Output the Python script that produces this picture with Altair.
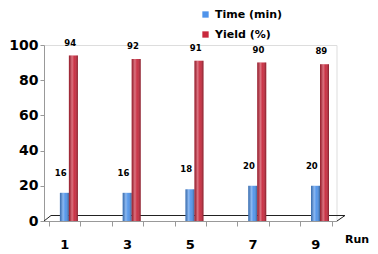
import altair as alt
import pandas as pd

runs = [1, 3, 5, 7, 9]
time_min = [16, 16, 18, 20, 20]
yield_pct = [94, 92, 91, 90, 89]
series = ["Time (min)", "Yield (%)"]
colors = ["#4f93ea", "#c8283c"]

rows = []
for r, t, y in zip(runs, time_min, yield_pct):
    rows.append({"run": r, "series": series[0], "value": t})
    rows.append({"run": r, "series": series[1], "value": y})
df = pd.DataFrame(rows)

FONT = "DejaVu Sans"

xscale = alt.Scale(domain=[0.5, 9.5], nice=False, zero=False)
yscale = alt.Scale(domain=[0, 100], nice=False)
cscale = alt.Scale(domain=series, range=colors)

xaxis = alt.Axis(values=[0.5 + i for i in range(10)], labels=False, title=None,
                 domainColor="#999999", tickColor="#999999", tickSize=5, grid=False)
yaxis = alt.Axis(values=[0, 20, 40, 60, 80, 100], title=None, grid=False,
                 labelFont=FONT, labelFontWeight="bold", labelFontSize=14,
                 labelColor="#000000", domainColor="#999999", tickColor="#999999",
                 tickSize=4, labelPadding=2, labelOverlap=False)
xq = alt.X("run:Q", scale=xscale, axis=xaxis)
yq = alt.Y("value:Q", scale=yscale, axis=yaxis)

shade = {
    "gradient": "linear", "x1": 0, "y1": 0, "x2": 1, "y2": 0,
    "stops": [
        {"offset": 0, "color": "rgba(0,0,0,0.25)"},
        {"offset": 0.35, "color": "rgba(255,255,255,0.35)"},
        {"offset": 0.6, "color": "rgba(255,255,255,0.05)"},
        {"offset": 1, "color": "rgba(0,0,0,0.35)"},
    ],
}

base = alt.Chart(df)
blue_data = base.transform_filter(alt.datum.series == series[0])
red_data = base.transform_filter(alt.datum.series == series[1])

legend = alt.Legend(title=None, orient="none", legendX=156, legendY=-36,
                    symbolType="square", symbolSize=40, rowPadding=8,
                    labelFont=FONT, labelFontWeight="bold", labelFontSize=11,
                    labelColor="#000000", symbolStrokeWidth=0, padding=0)

blue = blue_data.mark_bar(width=9, xOffset=-0.3).encode(
    x=xq, y=yq, color=alt.Color("series:N", scale=cscale, legend=legend))
blue_shade = blue_data.mark_bar(width=9, xOffset=-0.3, fill=shade).encode(x=xq, y=yq)

red = red_data.mark_bar(width=9, xOffset=8.7).encode(
    x=xq, y=yq, color=alt.Color("series:N", scale=cscale, legend=legend))
red_shade = red_data.mark_bar(width=9, xOffset=8.7, fill=shade).encode(x=xq, y=yq)

blue_lbl = blue_data.mark_text(
    font=FONT, fontWeight="bold", fontSize=8.5, dx=-4, dy=-20, color="#000000"
).encode(x=xq, y=yq, text="value:Q")

red_lbl = red_data.mark_text(
    font=FONT, fontWeight="bold", fontSize=8.5, dx=5.5, dy=-13, color="#000000"
).encode(x=xq, y=yq, text="value:Q")

run_df = pd.DataFrame({"run": runs, "label": [str(r) for r in runs]})
xlabels = alt.Chart(run_df).mark_text(
    font=FONT, fontWeight="bold", fontSize=13, color="#000000", baseline="middle"
).encode(x=xq, y=alt.value(200), text="label:N")

run_title = alt.Chart(pd.DataFrame({"t": ["Run"]})).mark_text(
    font=FONT, fontWeight="bold", fontSize=11, color="#000000", align="left", baseline="middle"
).encode(x=alt.value(301), y=alt.value(195), text="t:N")

# 3D floor outline (decoration)
one = pd.DataFrame({"a": [0]})
floor_back = alt.Chart(one).mark_rule(color="#222222", strokeWidth=1).encode(
    x=alt.value(7), x2=alt.value(301), y=alt.value(170.5))
floor_left = alt.Chart(one).mark_rule(color="#222222", strokeWidth=1).encode(
    x=alt.value(0), x2=alt.value(7), y=alt.value(176), y2=alt.value(170.5))
floor_right = alt.Chart(one).mark_rule(color="#222222", strokeWidth=1).encode(
    x=alt.value(293), x2=alt.value(301), y=alt.value(176), y2=alt.value(170.5))

chart = alt.layer(
    floor_back, floor_left, floor_right,
    blue, blue_shade, red, red_shade, blue_lbl, red_lbl, xlabels, run_title
).properties(
    width=292.5, height=176,
    autosize=alt.AutoSizeParams(type="none"),
    padding={"left": 36, "top": 37, "right": 33, "bottom": 33},
).configure_view(stroke=None).configure_axis(labelOverlap=False).configure(background="#ffffff")

chart.save("out.html", embed_options={"renderer": "svg", "actions": False})
